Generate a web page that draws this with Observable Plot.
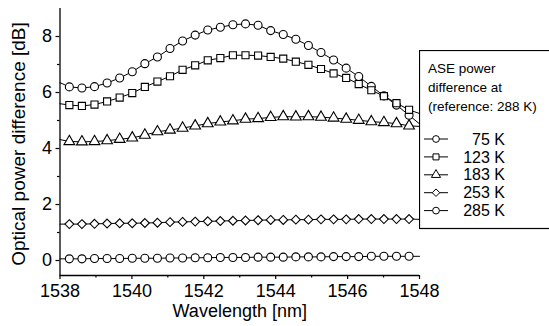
<!DOCTYPE html>
<html><head><meta charset="utf-8">
<script src="https://cdn.jsdelivr.net/npm/d3@7"></script>
<script src="https://cdn.jsdelivr.net/npm/@observablehq/plot@0.6"></script>
<style>
body{margin:0;background:#fff;}
#wrap{position:relative;width:549px;height:326px;overflow:hidden;font-family:"Liberation Sans",Arial,sans-serif;}
#wrap svg{display:block;}
</style></head><body><div id="wrap"></div>
<script>
// Wavelengths of the plotted markers (nm)
const wavelengths = [1538.26, 1538.61, 1538.96, 1539.31, 1539.66, 1540.01, 1540.36, 1540.71, 1541.06, 1541.41,
  1541.76, 1542.11, 1542.46, 1542.81, 1543.16, 1543.51, 1543.86, 1544.21, 1544.56, 1544.91,
  1545.26, 1545.61, 1545.96, 1546.31, 1546.66, 1547.01, 1547.36, 1547.71];
const lineStartX = 1538;
const lineEndX = 1548;

const seriesNames = ["75 K", "123 K", "183 K", "253 K", "285 K"];
const seriesSymbols = ["circle", "square", "triangle", "diamond2", "circle"];

const v75  = [6.20, 6.16, 6.21, 6.34, 6.52, 6.74, 7.03, 7.27, 7.57, 7.84, 8.05, 8.23, 8.33, 8.42,
  8.45, 8.40, 8.21, 8.07, 7.90, 7.68, 7.43, 7.16, 6.87, 6.57, 6.22, 5.88, 5.55, 5.19];
const v123 = [5.55, 5.52, 5.57, 5.68, 5.82, 5.98, 6.20, 6.39, 6.58, 6.81, 6.97, 7.15, 7.23, 7.33,
  7.33, 7.32, 7.27, 7.21, 7.10, 6.99, 6.84, 6.68, 6.52, 6.30, 6.08, 5.87, 5.62, 5.38];
const v183 = [4.25, 4.24, 4.25, 4.28, 4.33, 4.38, 4.48, 4.60, 4.66, 4.73, 4.81, 4.89, 4.95, 4.99,
  5.05, 5.07, 5.11, 5.14, 5.13, 5.14, 5.12, 5.09, 5.05, 5.01, 4.96, 4.93, 4.89, 4.81];
const v253 = [1.30, 1.30, 1.31, 1.32, 1.33, 1.33, 1.34, 1.35, 1.37, 1.38, 1.39, 1.40, 1.41, 1.42,
  1.43, 1.44, 1.45, 1.45, 1.46, 1.46, 1.47, 1.47, 1.47, 1.48, 1.48, 1.48, 1.48, 1.48];
const v285 = [0.06, 0.06, 0.07, 0.07, 0.07, 0.08, 0.08, 0.08, 0.09, 0.09, 0.10, 0.10, 0.11, 0.11,
  0.11, 0.12, 0.12, 0.12, 0.13, 0.13, 0.13, 0.14, 0.14, 0.14, 0.15, 0.15, 0.15, 0.15];
const startValues = [6.35, 5.60, 4.32, 1.30, 0.06];
const endValues = [4.88, 5.25, 4.79, 1.47, 0.15];

const xTicks = [1538, 1540, 1542, 1544, 1546, 1548];
const xMinorTicks = [1539, 1541, 1543, 1545, 1547];
const yTicks = [0, 2, 4, 6, 8];
const yMinorTicks = [1, 3, 5, 7];
const xDomain = [1538, 1548];
const yDomain = [-0.535, 9];

const legendTitle = ["ASE power", "difference at", "(reference: 288 K)"];
const xLabel = "Wavelength [nm]";
const yLabel = "Optical power difference [dB]";

const allValues = [v75, v123, v183, v253, v285];
const rows = [];
allValues.forEach((vals, k) => {
  rows.push({series: seriesNames[k], x: lineStartX, y: startValues[k], marker: false});
  vals.forEach((v, i) => rows.push({series: seriesNames[k], x: wavelengths[i], y: v, marker: true}));
  rows.push({series: seriesNames[k], x: lineEndX, y: endValues[k], marker: false});
});

const font = '"Liberation Sans", Arial, sans-serif';
const dotMarks = seriesNames.map((name, k) =>
  Plot.dot(rows.filter(d => d.marker && d.series === name), {
    x: "x", y: "y", symbol: seriesSymbols[k], r: 4, fill: "#fff", stroke: "#000", strokeWidth: 1.1
  })
);

const chart = Plot.plot({
  width: 549, height: 326,
  marginLeft: 59.5, marginRight: 130, marginTop: 8, marginBottom: 51,
  x: {domain: xDomain},
  y: {domain: yDomain},
  style: {fontFamily: font, fontSize: "18px", color: "#000", background: "#fff", overflow: "visible"},
  marks: [
    Plot.axisX({ticks: xTicks, tickSize: 4, tickPadding: 5, fontSize: 18, strokeWidth: 1.2, tickFormat: d => String(d), label: null}),
    Plot.axisX({ticks: xMinorTicks, tickSize: 2.5, strokeWidth: 1.2, tickFormat: () => "", label: null}),
    Plot.axisY({ticks: yTicks, tickSize: 4, tickPadding: 4, fontSize: 18, strokeWidth: 1.2, label: null}),
    Plot.axisY({ticks: yMinorTicks, tickSize: 2.5, strokeWidth: 1.2, tickFormat: () => "", label: null}),
    Plot.ruleX([xDomain[0]], {stroke: "#000", strokeWidth: 1.3}),
    Plot.ruleY([yDomain[0]], {stroke: "#000", strokeWidth: 1.3}),
    Plot.line(rows, {x: "x", y: "y", z: "series", stroke: "#000", strokeWidth: 1}),
    ...dotMarks,
    Plot.text([xLabel], {frameAnchor: "bottom", dy: 36, fontSize: 18, fill: "#000", lineAnchor: "middle", textAnchor: "middle"}),
    Plot.text([yLabel], {frameAnchor: "left", dx: -41, dy: 2, rotate: -90, fontSize: 19, fill: "#000", lineAnchor: "middle", textAnchor: "middle"})
  ]
});
const wrap = document.getElementById("wrap");
wrap.appendChild(chart);

// Legend box (drawn in the right margin)
const legend = d3.select(wrap).append("svg")
  .attr("width", 131).attr("height", 180)
  .style("position", "absolute").style("left", "419px").style("top", "50px")
  .style("font-family", font);
legend.append("rect").attr("x", 0.5).attr("y", 0.5).attr("width", 160).attr("height", 178)
  .attr("fill", "#fff").attr("stroke", "#000").attr("stroke-width", 1.2);
legendTitle.forEach((t, i) => {
  legend.append("text").attr("x", 9).attr("y", 23 + i * 18.8).attr("font-size", 13.5).attr("fill", "#000").text(t);
});
const symMap = {circle: d3.symbolCircle, square: d3.symbolSquare, triangle: d3.symbolTriangle, diamond2: d3.symbolDiamond2};
seriesNames.forEach((name, k) => {
  const cy = 89 + k * 17.9;
  legend.append("line").attr("x1", 5).attr("x2", 29).attr("y1", cy).attr("y2", cy).attr("stroke", "#000").attr("stroke-width", 1);
  legend.append("path").attr("d", d3.symbol(symMap[seriesSymbols[k]], 36)())
    .attr("transform", `translate(17,${cy})`).attr("fill", "#fff").attr("stroke", "#000").attr("stroke-width", 1);
  legend.append("text").attr("x", 86).attr("y", cy + 5.6).attr("text-anchor", "end")
    .attr("font-size", 16).attr("fill", "#000").text(name);
});
</script>
</body></html>
